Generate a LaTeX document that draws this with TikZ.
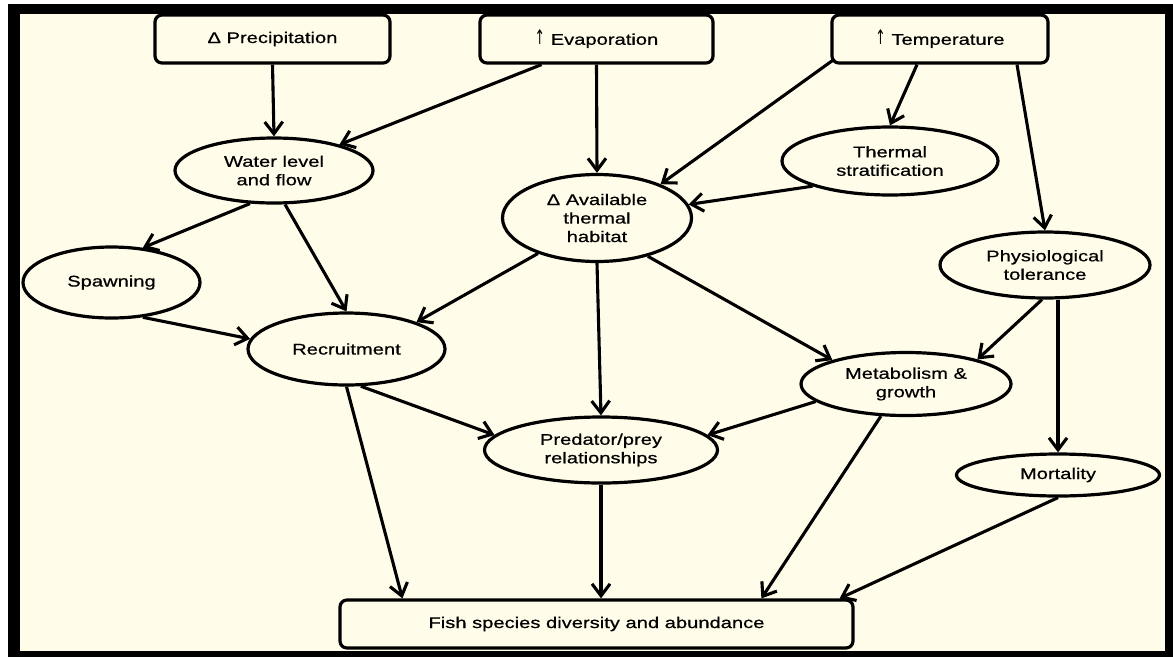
\documentclass[tikz,border=0pt]{standalone}
\usepackage{fontspec}
\setmainfont[FakeStretch=1.3,FakeBold=0.6]{Liberation Sans}
\newfontfamily\arrowfont[FakeStretch=0.8]{DejaVu Sans}
\usetikzlibrary{arrows.meta,shapes.geometric,calc}
\definecolor{cream}{RGB}{255,253,234}
\newcommand{\uparr}{\scalebox{1}[1.3]{\arrowfont ↑}}
\begin{document}
\begin{tikzpicture}[x=1pt,y=-1pt,
  txt/.style={font=\fontsize{15.5}{18.5}\selectfont,align=center},
  box/.style={txt,draw,line width=3.2pt,rounded corners=7pt,fill=cream,minimum height=48pt,inner sep=0pt},
  ell/.style={txt,ellipse,draw,line width=3.2pt,fill=cream,inner sep=0pt},
  arr/.style={line width=3.1pt,-{Straight Barb[length=12pt,width=18pt,line width=3.1pt]}}]
\useasboundingbox (0,0) rectangle (1173,657);
\fill[white] (0,0) rectangle (1173,657);
\fill[black] (8,4) rectangle (1173,657);
\fill[cream] (20,14) rectangle (1165,651);

% boxes
\node[box,minimum width=235pt] (prec) at (272.5,39) {Δ Precipitation};
\node[box,minimum width=233pt] (evap) at (596.5,39) {\uparr\ Evaporation};
\node[box,minimum width=216pt] (temp) at (940,39) {\uparr\ Temperature};
\node[box,minimum width=513pt] (fish) at (596.5,624) {Fish species diversity and abundance};

% ellipses
\node[ell,minimum width=198pt,minimum height=65pt] (water) at (274,170.5) {Water level\\and flow};
\node[ell,minimum width=216pt,minimum height=68pt] (strat) at (890,161) {Thermal\\stratification};
\node[ell,minimum width=189pt,minimum height=87pt] (avail) at (597,218) {Δ Available\\thermal\\habitat};
\node[ell,minimum width=177pt,minimum height=71pt] (spawn) at (111.5,282.5) {Spawning};
\node[ell,minimum width=197pt,minimum height=72pt] (recr) at (346.5,349) {Recruitment};
\node[ell,minimum width=210pt,minimum height=66pt] (physio) at (1045,265) {Physiological\\tolerance};
\node[ell,minimum width=210pt,minimum height=63pt] (metab) at (906,384) {Metabolism \&\\growth};
\node[ell,minimum width=233pt,minimum height=66pt] (pred) at (601,450) {Predator/prey\\relationships};
\node[ell,minimum width=203pt,minimum height=42pt] (mort) at (1058,475) {Mortality};

% connectors
\draw[arr] (prec.south) -- (water.north);
\draw[arr] ($(evap.south)+(-55,0)$) -- (water);
\draw[arr] (evap.south) -- (avail.north);
\draw[arr] ($(temp.south west)+(2,-4)$) -- (avail.28);
\draw[arr] ($(temp.south)+(-23,0)$) -- (strat.north);
\draw[arr] ($(temp.south)+(77,0)$) -- (physio.north);
\draw[arr] (strat.198) -- (avail);
\draw[arr] (water.234) -- (spawn.48);
\draw[arr] (water.288) -- (recr.north);
\draw[arr] (spawn.312) -- (recr.174);
\draw[arr] (avail.211) -- (recr.21);
\draw[arr] (avail.south) -- (pred.north);
\draw[arr] (avail.323) -- (metab.162);
\draw[arr] (physio.265) -- (metab.19);
\draw[arr] (mort.north |- physio.south) -- (mort.north);
\draw[arr] (recr.south) -- ($(fish.north west)+(64,0)$);
\draw[arr] (recr.291) -- (pred.172);
\draw[arr] (metab.191) -- (pred.8);
\draw[arr] (metab.232) -- ($(fish.north west)+(423,0)$);
\draw[arr] (pred.south) -- (pred.south |- fish.north);
\draw[arr] (mort.south) -- ($(fish.north east)+(-15,0)$);
\end{tikzpicture}
\end{document}
